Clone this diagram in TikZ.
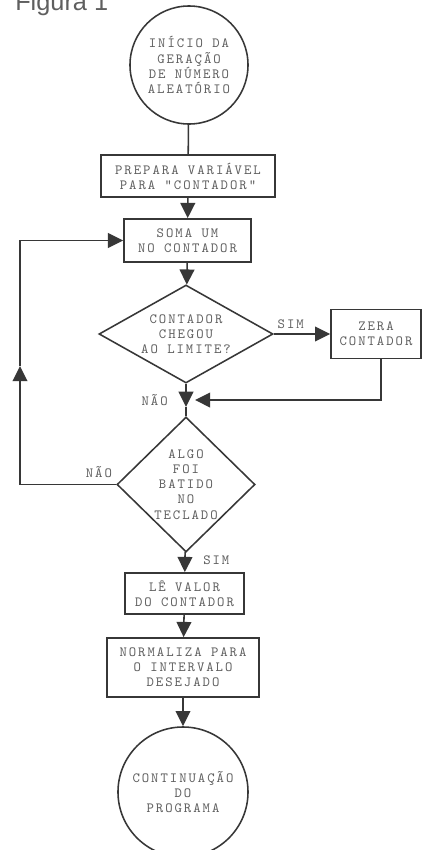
\documentclass[tikz,border=0pt]{standalone}
\usepackage{fontspec}
\setmainfont{Liberation Sans}
\newfontfamily\maquinafont[LetterSpace=14]{lmmono10-regular.otf}
\usetikzlibrary{arrows.meta,positioning,shapes.geometric}
\definecolor{ink}{RGB}{55,55,55}
\definecolor{pencil}{RGB}{95,95,95}
\newcommand{\maquina}{\maquinafont\fontsize{10}{10.8}\selectfont}
\tikzset{
  >={Triangle[length=3.8mm,width=3.7mm]},
  txt/.style={font=\maquina,text=pencil,align=center},
  term/.style={circle,draw=ink,line width=1.1pt,txt,minimum size=#1,inner sep=0pt},
  proc/.style={draw=ink,line width=1.1pt,txt,inner sep=0pt},
  decis/.style={diamond,draw=ink,line width=1.1pt,txt,inner sep=0pt,aspect=#1},
  decis/.default=1,
  flow/.style={->,draw=ink,line width=1.1pt},
  link/.style={draw=ink,line width=1.1pt},
  tag/.style={font=\maquina,text=pencil,inner sep=0pt},
}

\begin{document}
\begin{tikzpicture}[x=0.025cm,y=-0.025cm]
  \useasboundingbox[fill=white] (0,0) rectangle (423,850);
  \node[font=\fontsize{18}{18}\selectfont,text=pencil,anchor=base west,inner sep=0pt] (titulo) at (15,10) {Figura 1};

  % fluxo principal
  \node[term=2.95cm] (inicio) at (189,65) {INÍCIO DA\\GERAÇÃO\\DE NÚMERO\\ALEATÓRIO};
  \node[proc,minimum width=4.35cm,minimum height=1.05cm] (prepara) at (188,176) {PREPARA VARIÁVEL\\PARA "CONTADOR"};
  \node[proc,minimum width=3.18cm,minimum height=1.08cm] (soma) at (187.5,240.5) {SOMA UM\\NO CONTADOR};
  \node[decis=1.78,minimum width=4.35cm,minimum height=2.45cm] (limite) at (186,334) {CONTADOR\\CHEGOU\\AO LIMITE?};
  \node[proc,minimum width=2.25cm,minimum height=1.22cm] (zera) at (376,334) {ZERA\\CONTADOR};
  \node[decis,minimum width=3.45cm,minimum height=3.375cm] (tecla) at (186,484.5) {ALGO\\FOI\\BATIDO\\NO\\TECLADO};
  \node[proc,minimum width=2.98cm,minimum height=1.03cm] (le) at (184.5,593.5) {LÊ VALOR\\DO CONTADOR};
  \node[proc,minimum width=3.8cm,minimum height=1.48cm] (normaliza) at (183,667.5) {NORMALIZA PARA\\O INTERVALO\\DESEJADO};
  \node[term=3.25cm] (fim) at (183,792) {CONTINUAÇÃO\\DO\\PROGRAMA};

  % pontos de juncao
  \coordinate[below=5.75mm of limite.south] (junta);
  \coordinate (volta) at (195,400);
  \coordinate (sobe) at (20,366);

  \draw[link] (inicio) -- (prepara);
  \draw[flow] (prepara) -- (soma);
  \draw[flow] (soma) -- (limite);
  \draw[flow] (limite) -- node[tag,pos=0.3,above=1.2mm]{SIM} (zera);
  \draw[flow] ([xshift=1.2mm]zera.south) |- (volta);
  \draw[flow] (limite.south) -- (junta);
  \draw[link] (junta) -- (tecla.north);
  \node[tag,below left=2.5mm and 4.5mm of limite.south] (naoa) {NÃO};
  \draw[flow] (tecla.west) -| (sobe);
  \draw[flow] (sobe) |- (soma.west);
  \node[tag,above left=1.75mm and 1mm of tecla.west] (naob) {NÃO};
  \draw[flow] (tecla) -- (le);
  \node[tag,below right=0.75mm and 4.25mm of tecla.south] (simb) {SIM};
  \draw[flow] (le) -- (normaliza);
  \draw[flow] (normaliza) -- (fim);
\end{tikzpicture}
\end{document}
